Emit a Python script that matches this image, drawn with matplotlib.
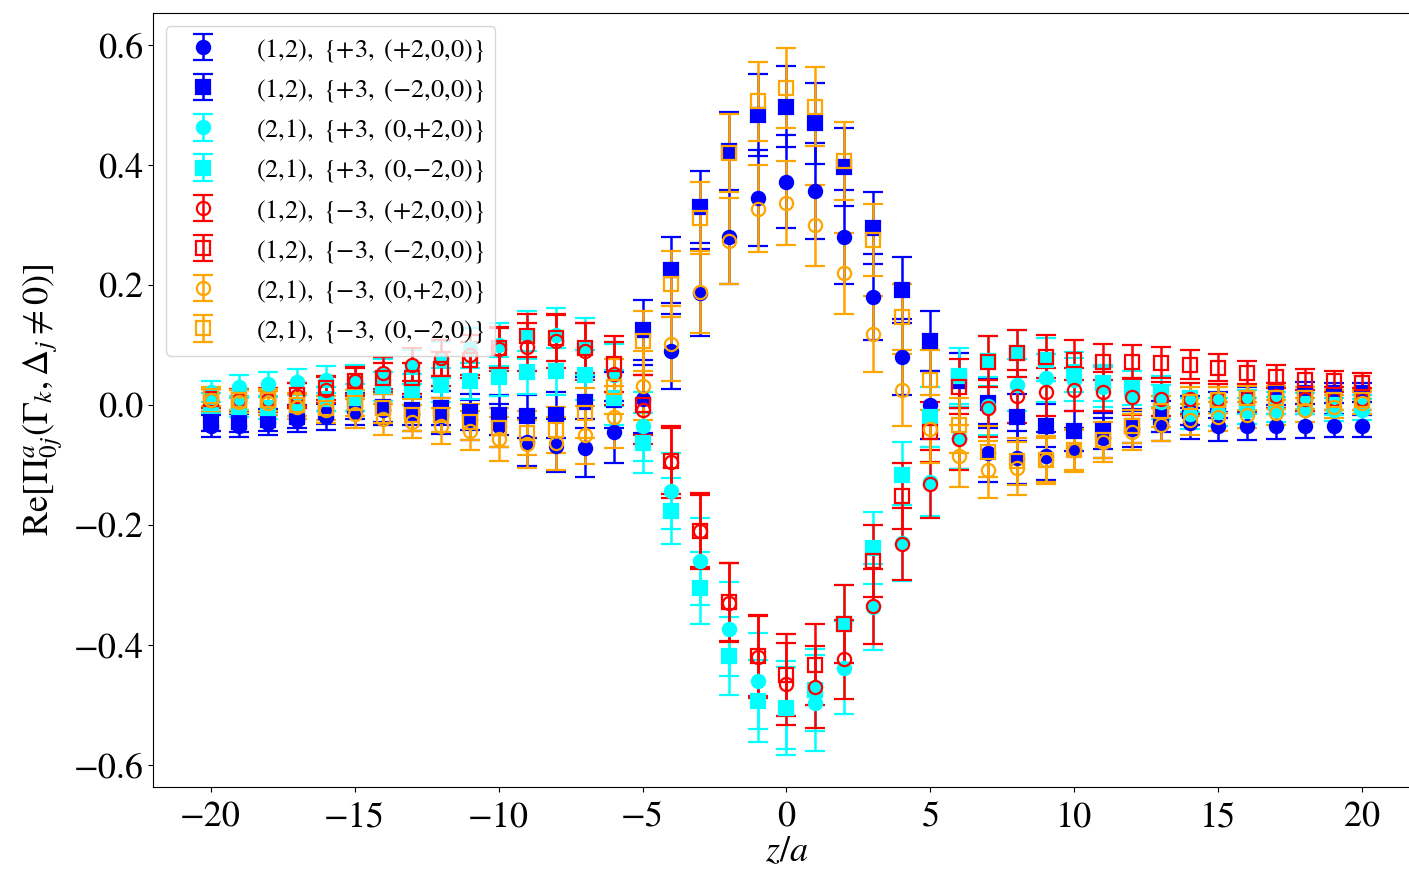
import numpy as np
import matplotlib
matplotlib.use("Agg")
import matplotlib.pyplot as plt

# z/a positions
z = list(range(-20, 21))

# (1,2), {+3, (+2,0,0)}
bc_val = [-0.035, -0.035, -0.030, -0.025, -0.020, -0.010, -0.008, -0.015, -0.018, -0.025,
          -0.035, -0.062, -0.068, -0.072, -0.045, 0.010, 0.089, 0.187, 0.279, 0.344,
          0.372, 0.356, 0.280, 0.180, 0.080, 0.000, -0.055, -0.080, -0.088, -0.085,
          -0.075, -0.055, -0.040, -0.033, -0.031, -0.036, -0.036, -0.036, -0.035, -0.035,
          -0.035]
bc_err = [0.018, 0.019, 0.020, 0.021, 0.022, 0.024, 0.026, 0.028, 0.030, 0.033,
          0.036, 0.040, 0.044, 0.048, 0.052, 0.057, 0.063, 0.072, 0.078, 0.080,
          0.078, 0.080, 0.078, 0.072, 0.063, 0.057, 0.052, 0.048, 0.044, 0.040,
          0.036, 0.033, 0.030, 0.028, 0.026, 0.024, 0.022, 0.021, 0.020, 0.019,
          0.018]

# (1,2), {+3, (-2,0,0)}
bs_val = [-0.028, -0.028, -0.025, -0.020, -0.012, -0.002, -0.004, -0.008, -0.005, -0.012,
          -0.017, -0.019, -0.017, 0.004, 0.008, 0.125, 0.224, 0.330, 0.423, 0.483,
          0.497, 0.469, 0.397, 0.294, 0.192, 0.107, 0.040, 0.003, -0.021, -0.035,
          -0.044, -0.043, -0.035, -0.020, -0.010, 0.000, 0.010, 0.018, 0.020, 0.020,
          0.020]
bs_err = [0.016, 0.017, 0.018, 0.019, 0.020, 0.022, 0.024, 0.026, 0.028, 0.030,
          0.033, 0.036, 0.039, 0.042, 0.046, 0.050, 0.055, 0.060, 0.065, 0.068,
          0.068, 0.068, 0.065, 0.060, 0.055, 0.050, 0.046, 0.042, 0.039, 0.036,
          0.033, 0.030, 0.028, 0.026, 0.024, 0.022, 0.020, 0.019, 0.018, 0.017,
          0.016]

# (2,1), {+3, (0,+2,0)}
cc_val = [0.022, 0.030, 0.034, 0.038, 0.042, 0.042, 0.050, 0.063, 0.075, 0.095,
          0.100, 0.117, 0.117, 0.097, 0.050, -0.036, -0.144, -0.261, -0.374, -0.461,
          -0.505, -0.497, -0.438, -0.337, -0.230, -0.128, -0.055, -0.002, 0.033, 0.045,
          0.042, 0.030, 0.015, 0.005, -0.015, -0.012, -0.010, -0.008, -0.008, -0.008,
          -0.008]
cc_err = [0.018, 0.019, 0.020, 0.021, 0.022, 0.024, 0.026, 0.028, 0.030, 0.033,
          0.036, 0.040, 0.044, 0.048, 0.052, 0.057, 0.063, 0.072, 0.078, 0.080,
          0.078, 0.080, 0.078, 0.072, 0.063, 0.057, 0.052, 0.048, 0.044, 0.040,
          0.036, 0.033, 0.030, 0.028, 0.026, 0.024, 0.022, 0.021, 0.020, 0.019,
          0.018]

# (2,1), {+3, (0,-2,0)}
cs_val = [0.003, -0.003, -0.005, 0.000, 0.010, 0.012, 0.031, 0.025, 0.033, 0.040,
          0.047, 0.054, 0.056, 0.050, 0.012, -0.064, -0.177, -0.306, -0.419, -0.494,
          -0.505, -0.475, -0.366, -0.239, -0.117, -0.020, 0.048, 0.073, 0.086, 0.075,
          0.055, 0.036, 0.028, 0.022, 0.012, 0.008, 0.005, 0.003, 0.002, 0.000,
          0.000]
cs_err = [0.016, 0.017, 0.018, 0.019, 0.020, 0.022, 0.024, 0.026, 0.028, 0.030,
          0.033, 0.036, 0.039, 0.042, 0.046, 0.050, 0.055, 0.060, 0.065, 0.068,
          0.068, 0.068, 0.065, 0.060, 0.055, 0.050, 0.046, 0.042, 0.039, 0.036,
          0.033, 0.030, 0.028, 0.026, 0.024, 0.022, 0.020, 0.019, 0.018, 0.017,
          0.016]

# (1,2), {-3, (+2,0,0)}
rc_val = [0.008, 0.008, 0.008, 0.015, 0.025, 0.039, 0.053, 0.067, 0.078, 0.083,
          0.093, 0.097, 0.106, 0.089, 0.052, -0.008, -0.095, -0.210, -0.330, -0.420,
          -0.465, -0.470, -0.424, -0.336, -0.232, -0.132, -0.057, -0.006, 0.014, 0.022,
          0.025, 0.022, 0.013, 0.010, 0.010, 0.010, 0.012, 0.015, 0.010, 0.010,
          0.010]
rc_err = [0.018, 0.019, 0.020, 0.021, 0.022, 0.024, 0.026, 0.028, 0.030, 0.033,
          0.036, 0.040, 0.044, 0.048, 0.052, 0.057, 0.060, 0.063, 0.066, 0.068,
          0.068, 0.068, 0.066, 0.063, 0.060, 0.057, 0.052, 0.048, 0.044, 0.040,
          0.036, 0.033, 0.030, 0.028, 0.026, 0.024, 0.022, 0.021, 0.020, 0.019,
          0.018]

# (1,2), {-3, (-2,0,0)}
rs_val = [0.010, 0.008, 0.008, 0.017, 0.028, 0.040, 0.045, 0.044, 0.060, 0.075,
          0.095, 0.115, 0.112, 0.095, 0.068, 0.000, -0.094, -0.210, -0.329, -0.418,
          -0.450, -0.433, -0.366, -0.261, -0.152, -0.046, 0.030, 0.072, 0.086, 0.080,
          0.075, 0.072, 0.072, 0.070, 0.067, 0.062, 0.053, 0.047, 0.042, 0.039,
          0.037]
rs_err = [0.016, 0.017, 0.018, 0.019, 0.020, 0.022, 0.024, 0.026, 0.028, 0.030,
          0.033, 0.036, 0.039, 0.042, 0.046, 0.050, 0.055, 0.060, 0.065, 0.068,
          0.068, 0.068, 0.065, 0.060, 0.055, 0.050, 0.046, 0.042, 0.039, 0.036,
          0.033, 0.030, 0.028, 0.026, 0.024, 0.022, 0.020, 0.019, 0.018, 0.017,
          0.016]

# (2,1), {-3, (0,+2,0)}
oc_val = [0.008, 0.005, 0.003, -0.003, -0.008, -0.015, -0.024, -0.028, -0.035, -0.043,
          -0.057, -0.065, -0.064, -0.050, -0.020, 0.032, 0.102, 0.188, 0.273, 0.327,
          0.337, 0.299, 0.219, 0.118, 0.025, -0.040, -0.085, -0.108, -0.106, -0.092,
          -0.076, -0.062, -0.045, -0.033, -0.025, -0.020, -0.017, -0.013, -0.008, -0.003,
          0.003]
oc_err = [0.018, 0.019, 0.020, 0.021, 0.022, 0.024, 0.026, 0.028, 0.030, 0.033,
          0.036, 0.040, 0.044, 0.048, 0.052, 0.057, 0.063, 0.068, 0.072, 0.072,
          0.070, 0.068, 0.067, 0.064, 0.060, 0.057, 0.052, 0.048, 0.044, 0.040,
          0.036, 0.033, 0.030, 0.028, 0.026, 0.024, 0.022, 0.021, 0.020, 0.019,
          0.018]

# (2,1), {-3, (0,-2,0)}
os_val = [0.014, 0.008, 0.008, 0.000, -0.005, 0.003, -0.006, -0.017, -0.017, -0.028,
          -0.038, -0.047, -0.042, -0.014, 0.030, 0.106, 0.201, 0.311, 0.420, 0.506,
          0.528, 0.497, 0.406, 0.275, 0.147, 0.042, -0.034, -0.078, -0.094, -0.092,
          -0.075, -0.058, -0.036, -0.011, 0.005, 0.008, 0.012, 0.012, 0.011, 0.008,
          0.008]
os_err = [0.016, 0.017, 0.018, 0.019, 0.020, 0.022, 0.024, 0.026, 0.028, 0.030,
          0.033, 0.036, 0.039, 0.042, 0.046, 0.050, 0.055, 0.060, 0.065, 0.066,
          0.066, 0.066, 0.065, 0.060, 0.055, 0.050, 0.046, 0.042, 0.039, 0.036,
          0.033, 0.030, 0.028, 0.026, 0.024, 0.022, 0.020, 0.019, 0.018, 0.017,
          0.016]

labels = [r"$(1{,}2),\ \{{+}3,\ ({+}2{,}0{,}0)\}$",
          r"$(1{,}2),\ \{{+}3,\ ({-}2{,}0{,}0)\}$",
          r"$(2{,}1),\ \{{+}3,\ (0{,}{+}2{,}0)\}$",
          r"$(2{,}1),\ \{{+}3,\ (0{,}{-}2{,}0)\}$",
          r"$(1{,}2),\ \{{-}3,\ ({+}2{,}0{,}0)\}$",
          r"$(1{,}2),\ \{{-}3,\ ({-}2{,}0{,}0)\}$",
          r"$(2{,}1),\ \{{-}3,\ (0{,}{+}2{,}0)\}$",
          r"$(2{,}1),\ \{{-}3,\ (0{,}{-}2{,}0)\}$"]

plt.rcParams["font.family"] = "STIXGeneral"
plt.rcParams["mathtext.fontset"] = "stix"

fig = plt.figure(figsize=(14.09, 8.72), dpi=100)
ax = fig.add_axes([153 / 1409, 85 / 872, (1420 - 153) / 1409, 774 / 872])

series = [
    (bc_val, bc_err, "blue", "o", True),
    (bs_val, bs_err, "blue", "s", True),
    (cc_val, cc_err, "cyan", "o", True),
    (cs_val, cs_err, "cyan", "s", True),
    (rc_val, rc_err, "red", "o", False),
    (rs_val, rs_err, "red", "s", False),
    (oc_val, oc_err, "orange", "o", False),
    (os_val, os_err, "orange", "s", False),
]

for (val, err, col, mk, filled), lab in zip(series, labels):
    ax.errorbar(z, val, yerr=err, fmt=mk, color=col,
                mfc=col if filled else "none", mec=col,
                ms=9.5, mew=1.6, elinewidth=1.8, capsize=7, capthick=1.8,
                label=lab)

ax.set_xlim(-22, 22)
ax.set_ylim(-0.637, 0.653)
ax.set_xticks([-20, -15, -10, -5, 0, 5, 10, 15, 20])
ax.set_yticks([-0.6, -0.4, -0.2, 0.0, 0.2, 0.4, 0.6])
ax.tick_params(labelsize=26)
ax.tick_params(axis="x", pad=7)
ax.set_xlabel(r"$z/a$", fontsize=26, labelpad=1)
ax.set_ylabel(r"Re$[\Pi^{a}_{0j}(\Gamma_k,\Delta_j\neq0)]$", fontsize=26, labelpad=6)

ax.legend(loc="upper left", fontsize=19, handlelength=2.0, labelspacing=0.5,
          handletextpad=1.0)

fig.savefig("out.png", dpi=100)
